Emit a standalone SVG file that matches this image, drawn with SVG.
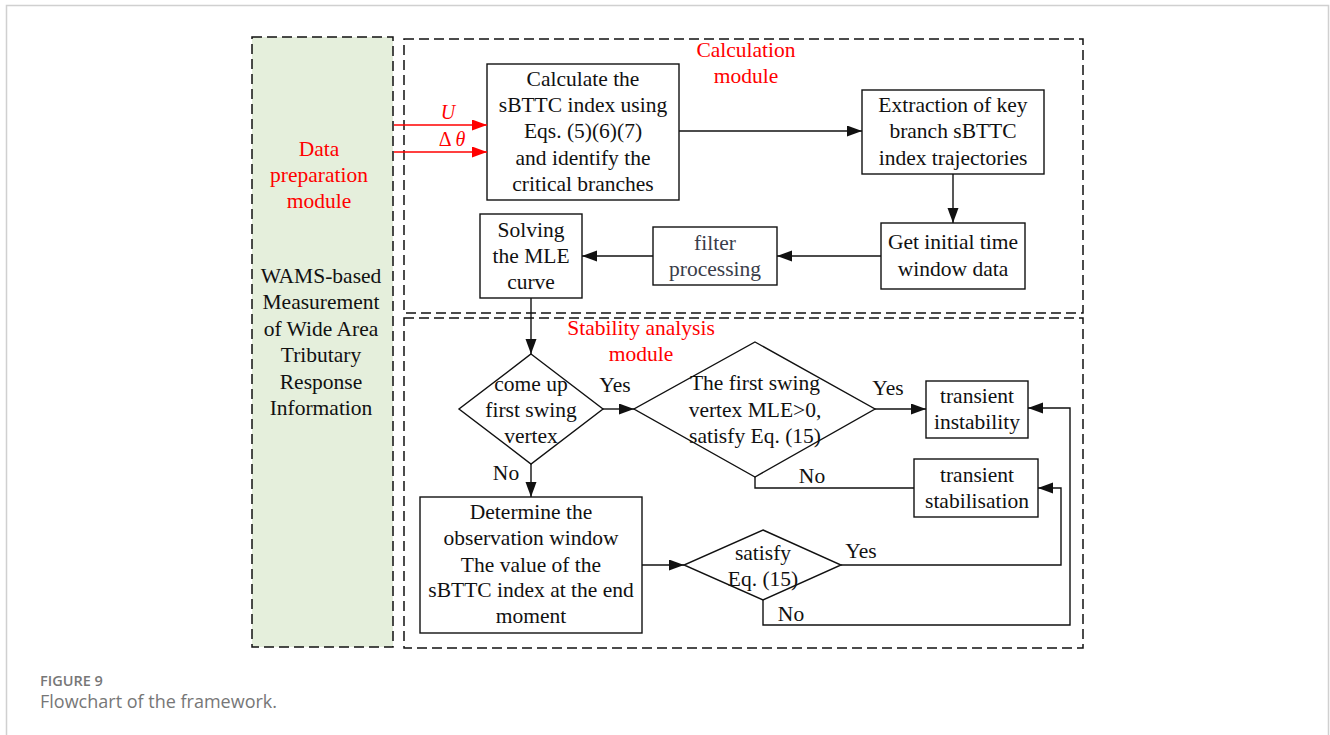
<svg xmlns="http://www.w3.org/2000/svg" width="1330" height="735" viewBox="0 0 1330 735">
<style>
  .t{font-family:"Liberation Serif","Times New Roman",serif;font-size:21.5px;fill:#111;text-anchor:middle}
  .r{fill:#ff0000}
  .box{fill:#fff;stroke:#111;stroke-width:1.4}
  .dash{fill:none;stroke:#111;stroke-width:1.5;stroke-dasharray:10 5}
  .ln{fill:none;stroke:#111;stroke-width:1.4}
  .lr{fill:none;stroke:#ff0000;stroke-width:1.6}
  .cap{font-family:"Open Sans","Liberation Sans",sans-serif;fill:#777}
</style>
<defs>
  <marker id="a" markerUnits="userSpaceOnUse" markerWidth="16" markerHeight="12" refX="15" refY="5.5" orient="auto">
    <path d="M0,0 L15,5.5 L0,11 z" fill="#111"/>
  </marker>
  <marker id="ar" markerUnits="userSpaceOnUse" markerWidth="16" markerHeight="12" refX="15" refY="5.5" orient="auto">
    <path d="M0,0 L15,5.5 L0,11 z" fill="#ff0000"/>
  </marker>
</defs>
<rect width="1330" height="735" fill="#fff"/>
<!-- page border -->
<path d="M6.5,735 V5.5 H1328.5 V735" fill="none" stroke="#d0d0d0" stroke-width="1.5"/>

<!-- module frames -->
<g id="data-module">
  <rect x="252" y="37" width="141" height="610" class="dash" style="fill:#e5efdc"/>
  <text class="t r" x="319" y="156">Data</text>
  <text class="t r" x="319" y="182">preparation</text>
  <text class="t r" x="319" y="208">module</text>
  <text class="t" x="321" y="283">WAMS-based</text>
  <text class="t" x="321" y="309">Measurement</text>
  <text class="t" x="321" y="336">of Wide Area</text>
  <text class="t" x="321" y="362">Tributary</text>
  <text class="t" x="321" y="389">Response</text>
  <text class="t" x="321" y="415">Information</text>
</g>
<g id="calc-module">
  <rect x="404" y="39" width="679" height="274" class="dash"/>
  <text class="t r" x="746" y="57">Calculation</text>
  <text class="t r" x="746" y="83">module</text>
</g>
<g id="stab-module">
  <rect x="404" y="318" width="679" height="330" class="dash"/>
  <text class="t r" x="641" y="335">Stability analysis</text>
  <text class="t r" x="641" y="361">module</text>
</g>

<!-- nodes -->
<g id="calc-index">
  <rect x="487" y="64" width="192" height="136" class="box"/>
  <text class="t" x="583" y="86">Calculate the</text>
  <text class="t" x="583" y="112">sBTTC index using</text>
  <text class="t" x="583" y="138">Eqs. (5)(6)(7)</text>
  <text class="t" x="583" y="165">and identify the</text>
  <text class="t" x="583" y="191">critical branches</text>
</g>
<g id="extraction">
  <rect x="862" y="90" width="182" height="84" class="box"/>
  <text class="t" x="953" y="112">Extraction of key</text>
  <text class="t" x="953" y="138">branch sBTTC</text>
  <text class="t" x="953" y="165">index trajectories</text>
</g>
<g id="initial-window">
  <rect x="881" y="223" width="144" height="66" class="box"/>
  <text class="t" x="953" y="249">Get initial time</text>
  <text class="t" x="953" y="276">window data</text>
</g>
<g id="filter">
  <rect x="653" y="227" width="124" height="58" class="box"/>
  <text class="t" x="715" y="250" style="fill:#3a3d4a">filter</text>
  <text class="t" x="715" y="276" style="fill:#3a3d4a">processing</text>
</g>
<g id="solving-mle">
  <rect x="480" y="214" width="102" height="84" class="box"/>
  <text class="t" x="531" y="237">Solving</text>
  <text class="t" x="531" y="263">the MLE</text>
  <text class="t" x="531" y="289">curve</text>
</g>
<g id="first-swing">
  <polygon points="531,354 603,409 531,464 459,409" class="box"/>
  <text class="t" x="531" y="391">come up</text>
  <text class="t" x="531" y="417">first swing</text>
  <text class="t" x="531" y="443">vertex</text>
</g>
<g id="mle-check">
  <polygon points="755,342 875,409 755,477 634,409" class="box"/>
  <text class="t" x="755" y="390">The first swing</text>
  <text class="t" x="755" y="417">vertex MLE&gt;0,</text>
  <text class="t" x="755" y="443">satisfy Eq. (15)</text>
</g>
<g id="instability">
  <rect x="926" y="381" width="102" height="57" class="box"/>
  <text class="t" x="977" y="403">transient</text>
  <text class="t" x="977" y="429">instability</text>
</g>
<g id="stabilisation">
  <rect x="914" y="459" width="124" height="58" class="box"/>
  <text class="t" x="977" y="482">transient</text>
  <text class="t" x="977" y="508">stabilisation</text>
</g>
<g id="observation">
  <rect x="420" y="497" width="222" height="136" class="box"/>
  <text class="t" x="531" y="519">Determine the</text>
  <text class="t" x="531" y="545">observation window</text>
  <text class="t" x="531" y="572">The value of the</text>
  <text class="t" x="531" y="597">sBTTC index at the end</text>
  <text class="t" x="531" y="623">moment</text>
</g>
<g id="satisfy-check">
  <polygon points="763,530 841,565 763,600 684,565" class="box"/>
  <text class="t" x="763" y="560">satisfy</text>
  <text class="t" x="763" y="586">Eq. (15)</text>
</g>

<!-- connectors -->
<g id="connectors">
  <path d="M394,125 H487" class="lr" marker-end="url(#ar)"/>
  <path d="M394,152 H487" class="lr" marker-end="url(#ar)"/>
  <text x="448" y="119" style="font-family:'Liberation Serif',serif;font-size:20px;font-style:italic;fill:#ff0000;text-anchor:middle">U</text>
  <text x="452" y="146" style="font-family:'Liberation Serif',serif;font-size:20px;fill:#ff0000;text-anchor:middle">Δ <tspan font-style="italic">θ</tspan></text>

  <path d="M679,131 H862" class="ln" marker-end="url(#a)"/>
  <path d="M953,174 V223" class="ln" marker-end="url(#a)"/>
  <path d="M881,256 H777" class="ln" marker-end="url(#a)"/>
  <path d="M653,256 H582" class="ln" marker-end="url(#a)"/>
  <path d="M531,298 V354" class="ln" marker-end="url(#a)"/>
  <path d="M603,409 H634" class="ln" marker-end="url(#a)"/>
  <text class="t" x="615" y="392">Yes</text>
  <path d="M875,409 H926" class="ln" marker-end="url(#a)"/>
  <text class="t" x="888" y="395">Yes</text>
  <path d="M755,477 V488 H914" class="ln"/>
  <text class="t" x="812" y="483">No</text>
  <path d="M531,464 V497" class="ln" marker-end="url(#a)"/>
  <text class="t" x="506" y="480">No</text>
  <path d="M642,565 H684" class="ln" marker-end="url(#a)"/>
  <path d="M841,565 H1061 V488 H1038" class="ln" marker-end="url(#a)"/>
  <text class="t" x="861" y="558">Yes</text>
  <path d="M763,600 V625 H1070 V408 H1028" class="ln" marker-end="url(#a)"/>
  <text class="t" x="791" y="621">No</text>
</g>

<!-- caption -->
<text class="cap" x="40" y="686" style="font-size:14.5px;font-weight:600">FIGURE 9</text>
<text class="cap" x="40" y="708" style="font-size:18px">Flowchart of the framework.</text>
</svg>
